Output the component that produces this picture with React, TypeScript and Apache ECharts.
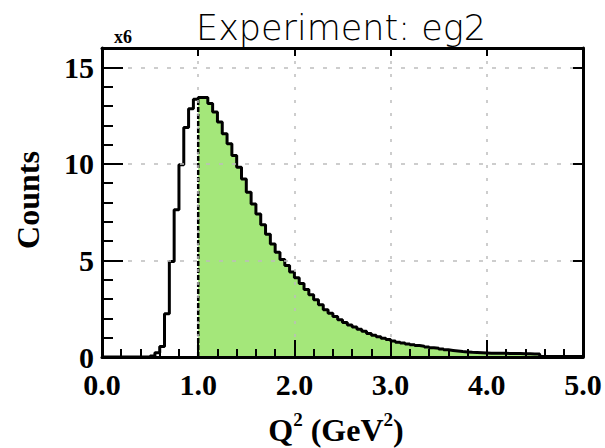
import React, { useEffect, useRef } from "react";
import * as echarts from "echarts";

// Histogram of Q^2, 100 bins of width 0.05 GeV^2 from 0 to 5
const binStart = 0;
const binWidth = 0.05;
const counts: number[] = [
  0, 0, 0, 0, 0, 0, 0, 0, 0, 0,
  0.05, 0.22, 0.54, 2.24, 4.95, 7.62, 9.95, 11.88, 12.86, 13.35,
  13.44, 13.44, 13.13, 12.69, 12.17, 11.56, 11.04, 10.43, 9.83, 9.22,
  8.53, 7.92, 7.4, 6.85, 6.35, 5.85, 5.42, 5.05, 4.74, 4.4,
  4.1, 3.8, 3.49, 3.22, 2.97, 2.7, 2.45, 2.27, 2.1, 1.93,
  1.79, 1.66, 1.55, 1.44, 1.33, 1.22, 1.13, 1.05, 0.97, 0.9,
  0.83, 0.77, 0.72, 0.67, 0.63, 0.59, 0.56, 0.52, 0.48, 0.45,
  0.41, 0.37, 0.34, 0.31, 0.28, 0.26, 0.24, 0.23, 0.22, 0.21,
  0.2, 0.2, 0.19, 0.19, 0.18, 0.18, 0.18, 0.17, 0.17, 0.16,
  0.16, 0.03, 0.03, 0.03, 0.03, 0.03, 0.03, 0.03, 0.03, 0.03,
];
const cutValue = 1.0; // Q^2 cut (GeV^2)
const xTicks = [0, 1, 2, 3, 4, 5];
const yTicks = [0, 5, 10, 15];
const xRange = [0, 5];
const yRange = [0, 16];
const titleText = "Experiment: eg2";
const scaleText = "x6";
const yName = "Counts";

const SERIF = "'Liberation Serif', 'Times New Roman', serif";

export default function App() {
  const ref = useRef<HTMLDivElement>(null);
  useEffect(() => {
    if (!ref.current) return;
    const chart = echarts.init(ref.current, undefined, { renderer: "svg" });

    const outline: number[][] = counts.map((c, i) => [binStart + i * binWidth, c]);
    outline.push([binStart + counts.length * binWidth, counts[counts.length - 1]]);
    const cutIdx = Math.round((cutValue - binStart) / binWidth);
    const filled = outline.slice(cutIdx);
    const cutLine = [
      [cutValue, 0],
      [cutValue, counts[cutIdx]],
    ];

    const frameLine = { show: true, onZero: false, lineStyle: { color: "#000", width: 3 } };
    const gridLine = (dash: number[]) => ({
      show: true,
      lineStyle: { color: "#bdbdbd", width: 1.5, type: dash },
    });
    const labelStyle = {
      fontFamily: SERIF,
      fontWeight: "bold" as const,
      fontSize: 30,
      color: "#000",
    };

    chart.setOption({
      animation: false,
      grid: { left: 102, top: 48, width: 481, height: 309, containLabel: false },
      xAxis: [
        {
          type: "value",
          position: "bottom",
          min: xRange[0],
          max: xRange[1],
          interval: 1,
          z: 5,
          axisLine: frameLine,
          axisTick: { show: true, inside: true, length: 17, lineStyle: { color: "#000", width: 2 } },
          minorTick: { show: true, splitNumber: 5, length: 8, lineStyle: { color: "#000", width: 2 } },
          splitLine: gridLine([3, 10]),
          axisLabel: {
            ...labelStyle,
            margin: 12,
            formatter: (v: number) => (xTicks.includes(v) ? v.toFixed(1) : ""),
          },
        },
        {
          type: "value",
          position: "top",
          min: xRange[0],
          max: xRange[1],
          interval: 1,
          z: 5,
          axisLine: frameLine,
          axisTick: { show: true, inside: true, length: 8, lineStyle: { color: "#000", width: 2 } },
          splitLine: { show: false },
          axisLabel: { show: false },
        },
      ],
      yAxis: [
        {
          type: "value",
          position: "left",
          min: yRange[0],
          max: yRange[1],
          interval: 5,
          z: 5,
          axisLine: frameLine,
          axisTick: { show: true, inside: true, length: 21, lineStyle: { color: "#000", width: 2 } },
          splitLine: gridLine([4, 9]),
          axisLabel: {
            ...labelStyle,
            margin: 8,
            formatter: (v: number) => (yTicks.includes(v) ? String(v) : ""),
          },
        },
        {
          type: "value",
          position: "left",
          min: yRange[0],
          max: yRange[1],
          interval: 1,
          z: 5,
          axisLine: { show: false },
          axisTick: { show: true, inside: true, length: 11, lineStyle: { color: "#000", width: 2 } },
          splitLine: { show: false },
          axisLabel: { show: false },
        },
        {
          type: "value",
          position: "right",
          min: yRange[0],
          max: yRange[1],
          interval: 5,
          z: 5,
          axisLine: frameLine,
          axisTick: { show: true, inside: true, length: 10, lineStyle: { color: "#000", width: 2 } },
          splitLine: { show: false },
          axisLabel: { show: false },
        },
      ],
      series: [
        {
          type: "line",
          data: filled,
          step: "end",
          showSymbol: false,
          lineStyle: { width: 0 },
          areaStyle: { color: "#a4e77a", opacity: 1 },
          z: 1,
        },
        {
          type: "line",
          data: outline,
          step: "end",
          showSymbol: false,
          lineStyle: { color: "#000", width: 3 },
          z: 2,
        },
        {
          type: "line",
          data: cutLine,
          showSymbol: false,
          lineStyle: { color: "#000", width: 2.5, type: [5, 2] },
          z: 3,
        },
      ],
      graphic: [
        {
          type: "text",
          x: 341,
          y: 28,
          style: {
            text: titleText,
            fontFamily: "'DejaVu Sans', sans-serif",
            fontWeight: 200,
            fontSize: 35,
            fill: "#000",
            align: "center",
            verticalAlign: "middle",
          },
        },
        {
          type: "text",
          x: 123,
          y: 37,
          style: {
            text: scaleText,
            fontFamily: SERIF,
            fontWeight: "bold",
            fontSize: 18,
            fill: "#000",
            align: "center",
            verticalAlign: "middle",
          },
        },
        {
          type: "text",
          x: 28,
          y: 200,
          rotation: Math.PI / 2,
          style: {
            text: yName,
            fontFamily: SERIF,
            fontWeight: "bold",
            fontSize: 32,
            fill: "#000",
            align: "center",
            verticalAlign: "middle",
          },
        },
        {
          type: "text",
          x: 336,
          y: 428,
          style: {
            text: "{a|Q}{s|2}{a| (GeV}{s|2}{a|)}",
            align: "center",
            verticalAlign: "middle",
            rich: {
              a: { fontFamily: SERIF, fontWeight: "bold", fontSize: 32, fill: "#000", verticalAlign: "bottom", lineHeight: 36 },
              s: { fontFamily: SERIF, fontWeight: "bold", fontSize: 19, fill: "#000", verticalAlign: "top", lineHeight: 36 },
            },
          },
        },
      ],
    });
    return () => chart.dispose();
  }, []);
  return (
    <div
      ref={ref}
      style={{ position: "absolute", left: 0, top: 0, width: 605, height: 448, background: "#fff" }}
    />
  );
}
